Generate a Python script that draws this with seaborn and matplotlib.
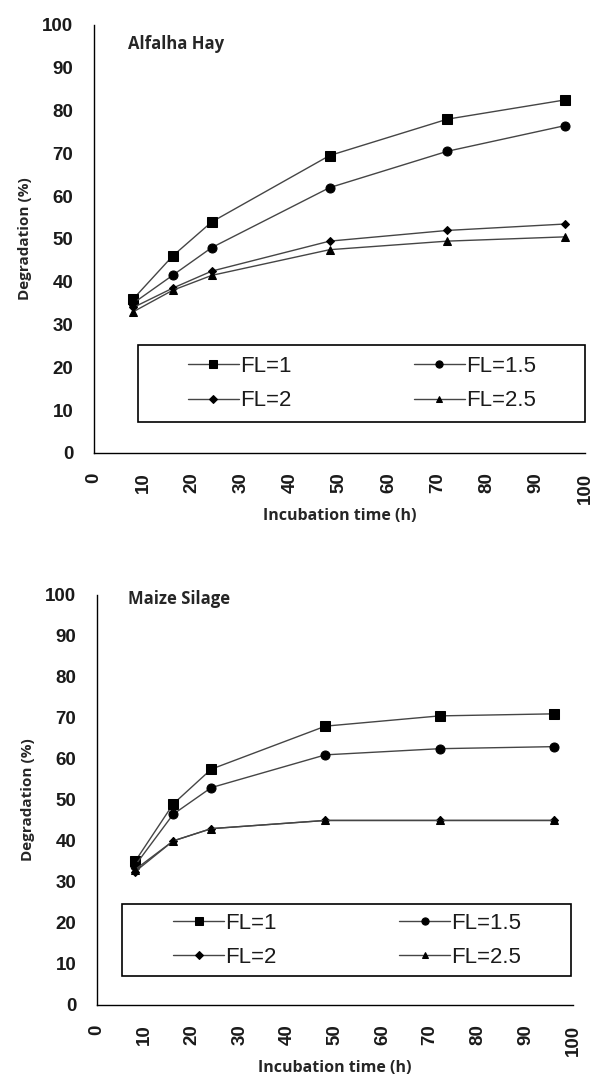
import matplotlib
matplotlib.use("Agg")
import matplotlib.pyplot as plt
from matplotlib.patches import Rectangle
import seaborn as sns
import pandas as pd

hours = [8, 16, 24, 48, 72, 96]
series_names = ["FL=1", "FL=1.5", "FL=2", "FL=2.5"]

alfalfa_fl1 = [36, 46, 54, 69.5, 78, 82.5]
alfalfa_fl15 = [35, 41.5, 48, 62, 70.5, 76.5]
alfalfa_fl2 = [34, 38.5, 42.5, 49.5, 52, 53.5]
alfalfa_fl25 = [33, 38, 41.5, 47.5, 49.5, 50.5]

maize_fl1 = [35, 49, 57.5, 68, 70.5, 71]
maize_fl15 = [34, 46.5, 53, 61, 62.5, 63]
maize_fl2 = [32.5, 40, 43, 45, 45, 45]
maize_fl25 = [33, 40, 43, 45, 45, 45]

panel_titles = ["Alfalha Hay", "Maize Silage"]
x_ticks = list(range(0, 101, 10))
y_ticks = list(range(0, 101, 10))

sns.set_style("white")
plt.rcParams['font.family'] = ['Liberation Sans', 'DejaVu Sans']

def long_df(vals):
    rows = []
    for name, v in zip(series_names, vals):
        for h, d in zip(hours, v):
            rows.append({"time": h, "deg": d, "series": name})
    return pd.DataFrame(rows)

markers = {"FL=1": "s", "FL=1.5": "o", "FL=2": "D", "FL=2.5": "^"}
msizes = {"FL=1": 6.5, "FL=1.5": 6.5, "FL=2": 4.5, "FL=2.5": 6}

fig = plt.figure(figsize=(5.95, 10.77), dpi=100)
ax1 = fig.add_axes([0.158, 0.5794, 0.825, 0.3974])
ax2 = fig.add_axes([0.163, 0.0669, 0.800, 0.3807])

datasets = [
    [alfalfa_fl1, alfalfa_fl15, alfalfa_fl2, alfalfa_fl25],
    [maize_fl1, maize_fl15, maize_fl2, maize_fl25],
]
# (box x0, box y0, box x1, box y1, legend anchor x, legend anchor y) in axes fractions
legend_layouts = [(0.0896, 0.072, 1.0, 0.252, 0.191, 0.162),
                  (0.0525, 0.0707, 0.996, 0.246, 0.160, 0.157)]
title_pos = [(0.069, 0.977), (0.065, 1.012)]

for ax, data, title, lay, tp in zip([ax1, ax2], datasets, panel_titles,
                                    legend_layouts, title_pos):
    df = long_df(data)
    for name in series_names:
        sub = df[df["series"] == name]
        sns.lineplot(data=sub, x="time", y="deg", ax=ax, color="#454545",
                     linewidth=1.0, marker=markers[name], markersize=msizes[name],
                     markerfacecolor="black", markeredgecolor="black",
                     label=name)
    ax.set_xlim(0, 100)
    ax.set_ylim(0, 100)
    ax.set_xticks(x_ticks)
    ax.set_yticks(y_ticks)
    ax.set_xticklabels([str(t) for t in x_ticks], rotation=90, fontsize=13.5,
                       fontweight="bold", color="#1a1a1a")
    ax.set_yticklabels([str(t) for t in y_ticks], fontsize=13.5,
                       fontweight="bold", color="#1a1a1a")
    ax.tick_params(axis="y", length=0, pad=15)
    ax.tick_params(axis="x", length=0, pad=14)
    for s in ["top", "right"]:
        ax.spines[s].set_visible(False)
    for s in ["left", "bottom"]:
        ax.spines[s].set_color("black")
        ax.spines[s].set_linewidth(1.0)
    ax.set_xlabel("Incubation time (h)", fontsize=11.5, fontweight="bold",
                  family=["Open Sans", "DejaVu Sans"], labelpad=3)
    ax.set_ylabel("Degradation (%)", fontsize=11, fontweight="bold",
                  family=["Open Sans", "DejaVu Sans"], labelpad=7)
    ax.text(tp[0], tp[1], title, transform=ax.transAxes, fontsize=12,
            fontweight="bold", family=["Open Sans", "DejaVu Sans"],
            va="top", ha="left")
    ax.add_patch(Rectangle((lay[0], lay[1]), lay[2] - lay[0], lay[3] - lay[1],
                           transform=ax.transAxes, fill=False,
                           edgecolor="black", linewidth=1.2, clip_on=False,
                           zorder=3))
    handles, labels = ax.get_legend_handles_labels()
    order = [0, 2, 1, 3]
    leg = ax.legend([handles[i] for i in order], [labels[i] for i in order],
                    loc="center left", bbox_to_anchor=(lay[4], lay[5]),
                    ncol=2, frameon=False, fontsize=16, handlelength=2.3,
                    handletextpad=0.05, borderaxespad=0, columnspacing=5.5,
                    labelspacing=0.6, borderpad=0, markerscale=0.8)
    for t in leg.get_texts():
        t.set_color("#1a1a1a")

fig.savefig("out.png", dpi=100)
